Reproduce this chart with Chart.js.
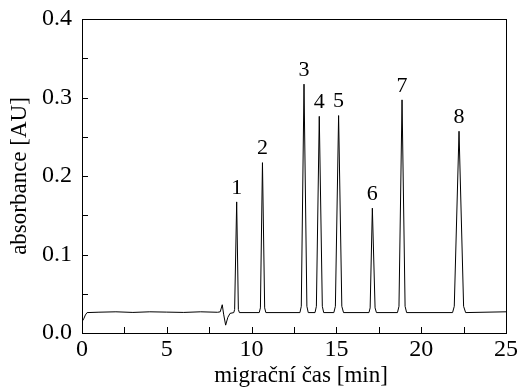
<!DOCTYPE html>
<html>
<head>
<meta charset="utf-8">
<script src="https://cdn.jsdelivr.net/npm/chart.js@4/dist/chart.umd.min.js"></script>
<style>
  html, body { margin: 0; padding: 0; background: #fff; }
  #wrap { width: 521px; height: 388px; }
</style>
</head>
<body>
<div id="wrap"><canvas id="chart" width="521" height="388"></canvas></div>
<script>
// Electropherogram trace (time in min, absorbance in AU)
const timeMin = [
  0, 0.1, 0.2, 0.3, 1.0, 2.0, 3.0, 4.0, 5.0, 6.0, 7.0, 8.0,
  8.15, 8.27, 8.35, 8.47, 8.6, 8.73, 8.95,
  9.0, 9.12, 9.22, 9.28,
  10.45, 10.52, 10.64, 10.77, 10.84,
  12.85, 12.93, 13.09, 13.26, 13.34,
  13.74, 13.82, 13.99, 14.17, 14.25,
  14.85, 14.94, 15.13, 15.32, 15.42,
  16.92, 16.99, 17.12, 17.28, 17.36,
  18.6, 18.69, 18.87, 19.05, 19.14,
  21.85, 21.95, 22.23, 22.5, 22.62,
  25
];
const absorbance = [
  0.0145, 0.018, 0.023, 0.026, 0.0265, 0.027, 0.0262, 0.027, 0.0266, 0.0262, 0.027, 0.0264,
  0.027, 0.036, 0.024, 0.010, 0.020, 0.025, 0.026,
  0.030, 0.167, 0.030, 0.026,
  0.026, 0.032, 0.217, 0.032, 0.026,
  0.026, 0.034, 0.317, 0.034, 0.026,
  0.026, 0.034, 0.276, 0.034, 0.026,
  0.026, 0.034, 0.277, 0.034, 0.026,
  0.026, 0.032, 0.159, 0.032, 0.026,
  0.026, 0.034, 0.297, 0.034, 0.026,
  0.026, 0.034, 0.257, 0.034, 0.026,
  0.027
];

// Peak numbering
const peakLabels = ['1', '2', '3', '4', '5', '6', '7', '8'];
const peakTimes = [9.12, 10.64, 13.09, 13.99, 15.13, 17.12, 18.87, 22.23];
const peakHeights = [0.167, 0.217, 0.317, 0.276, 0.277, 0.159, 0.297, 0.257];

// Axis ticks
const xTicks = [0, 2.5, 5, 7.5, 10, 12.5, 15, 17.5, 20, 22.5, 25];
const yTicks = [0, 0.05, 0.1, 0.15, 0.2, 0.25, 0.3, 0.35, 0.4];
const xTitle = 'migrační čas [min]';

const serif = "'Liberation Serif', 'Times New Roman', serif";

// Frame, inward ticks, x title and peak numbers
const framePlugin = {
  id: 'frame',
  afterDatasetsDraw(chart) {
    const { ctx, chartArea: a, scales } = chart;
    ctx.save();
    ctx.strokeStyle = '#000';
    ctx.lineWidth = 1;
    ctx.strokeRect(a.left + 0.5, a.top + 0.5, a.right - a.left, a.bottom - a.top);

    ctx.beginPath();
    xTicks.forEach((v) => {
      const px = Math.round(scales.x.getPixelForValue(v)) + 0.5;
      ctx.moveTo(px, a.bottom);
      ctx.lineTo(px, a.bottom - 6);
    });
    yTicks.forEach((v) => {
      const py = Math.round(scales.y.getPixelForValue(v)) + 0.5;
      ctx.moveTo(a.left, py);
      ctx.lineTo(a.left + 6, py);
    });
    ctx.stroke();

    ctx.fillStyle = '#000';
    ctx.textAlign = 'center';

    // x axis title, sits slightly right of the plot centre in the original
    ctx.font = `23px ${serif}`;
    ctx.textBaseline = 'alphabetic';
    ctx.fillText(xTitle, (a.left + a.right) / 2 + 7, chart.height - 6);

    ctx.font = `22px ${serif}`;
    ctx.textBaseline = 'bottom';
    peakLabels.forEach((lbl, i) => {
      const px = scales.x.getPixelForValue(peakTimes[i]);
      const py = scales.y.getPixelForValue(peakHeights[i]);
      ctx.fillText(lbl, px, py - 3);
    });
    ctx.restore();
  },
};

new Chart(document.getElementById('chart'), {
  type: 'line',
  data: {
    datasets: [
      {
        data: timeMin.map((t, i) => ({ x: t, y: absorbance[i] })),
        borderColor: '#000',
        borderWidth: 1,
        pointRadius: 0,
        tension: 0,
        fill: false,
      },
    ],
  },
  options: {
    responsive: false,
    animation: false,
    devicePixelRatio: 1,
    layout: { padding: { top: 19, right: 15, left: 0, bottom: 0 } },
    plugins: { legend: { display: false }, tooltip: { enabled: false } },
    scales: {
      x: {
        type: 'linear',
        min: 0,
        max: 25,
        afterBuildTicks: (s) => { s.ticks = xTicks.map((v) => ({ value: v })); },
        afterFit: (s) => { s.height = 55; },
        grid: { display: false },
        border: { display: false },
        ticks: {
          color: '#000',
          font: { family: serif, size: 24 },
          padding: -6,
          maxRotation: 0,
          autoSkip: false,
          callback: (v) => (v % 5 === 0 ? String(v) : ''),
        },
      },
      y: {
        min: 0,
        max: 0.4,
        afterBuildTicks: (s) => { s.ticks = yTicks.map((v) => ({ value: v })); },
        afterFit: (s) => { s.width = 82; },
        grid: { display: false },
        border: { display: false },
        ticks: {
          color: '#000',
          font: { family: serif, size: 24 },
          padding: 2,
          autoSkip: false,
          callback: (v) => (Math.round(v * 100) % 10 === 0 ? v.toFixed(1) : ''),
        },
        title: {
          display: true,
          text: 'absorbance [AU]',
          color: '#000',
          font: { family: serif, size: 23 },
          padding: { top: 6, bottom: 0 },
        },
      },
    },
  },
  plugins: [framePlugin],
});
</script>
</body>
</html>
